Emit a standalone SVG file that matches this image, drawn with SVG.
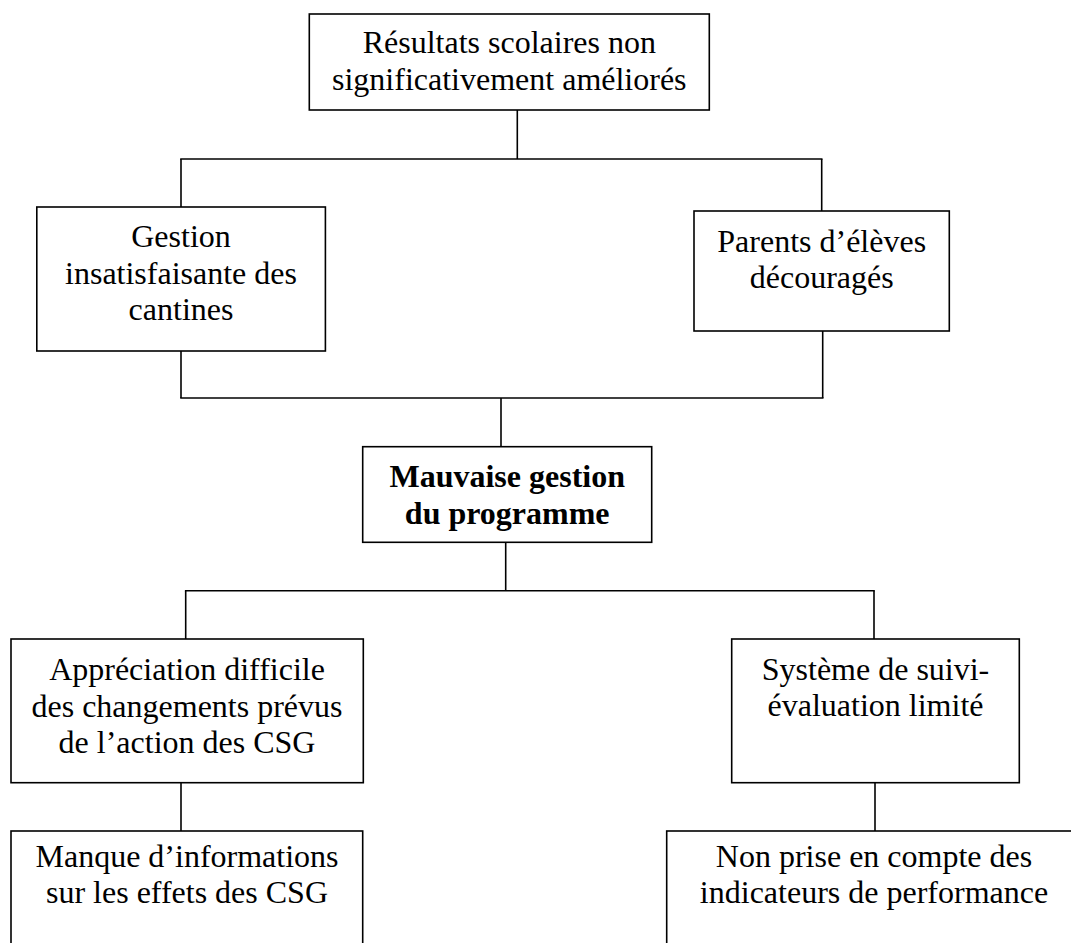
<svg xmlns="http://www.w3.org/2000/svg" width="1071" height="943" viewBox="0 0 1071 943">
<style>
  .box { fill: #ffffff; stroke: #000000; stroke-width: 1.6; }
  .lbl { font-family: "Liberation Serif", "Times New Roman", serif; font-size: 32px; fill: #000000; text-anchor: middle; }
  .bold { font-weight: bold; }
  .conn line { stroke: #000000; stroke-width: 1.6; }
</style>
<rect x="0" y="0" width="1071" height="943" fill="#ffffff"/>
<g id="connectors" class="conn">
  <line x1="517.3" y1="110" x2="517.3" y2="159"/>
  <line x1="180.2" y1="159" x2="822.5" y2="159"/>
  <line x1="181" y1="159" x2="181" y2="207"/>
  <line x1="821.7" y1="159" x2="821.7" y2="211"/>
  <line x1="181" y1="351" x2="181" y2="398"/>
  <line x1="822.7" y1="331" x2="822.7" y2="398"/>
  <line x1="180.2" y1="398" x2="823.5" y2="398"/>
  <line x1="501" y1="398" x2="501" y2="446.7"/>
  <line x1="505.7" y1="542.3" x2="505.7" y2="590.7"/>
  <line x1="184.9" y1="590.7" x2="874.8" y2="590.7"/>
  <line x1="185.7" y1="590.7" x2="185.7" y2="639"/>
  <line x1="874" y1="590.7" x2="874" y2="639"/>
  <line x1="181" y1="782.7" x2="181" y2="831"/>
  <line x1="875" y1="782.7" x2="875" y2="831"/>
</g>
<g id="n-resultats">
  <rect class="box" x="309.3" y="14" width="400" height="96"/>
  <text class="lbl" x="509.3" y="53">Résultats scolaires non</text>
  <text class="lbl" x="509.3" y="90">significativement améliorés</text>
</g>
<g id="n-gestion-cantines">
  <rect class="box" x="36.8" y="207" width="288.6" height="144"/>
  <text class="lbl" x="181" y="247">Gestion</text>
  <text class="lbl" x="181" y="283.5">insatisfaisante des</text>
  <text class="lbl" x="181" y="320">cantines</text>
</g>
<g id="n-parents">
  <rect class="box" x="694" y="211" width="255.3" height="120"/>
  <text class="lbl" x="821.7" y="252">Parents d’élèves</text>
  <text class="lbl" x="821.7" y="288">découragés</text>
</g>
<g id="n-mauvaise-gestion">
  <rect class="box" x="362.7" y="446.7" width="289" height="95.6"/>
  <text class="lbl bold" x="507.2" y="487">Mauvaise gestion</text>
  <text class="lbl bold" x="507.2" y="524">du programme</text>
</g>
<g id="n-appreciation">
  <rect class="box" x="11" y="639" width="352.3" height="143.7"/>
  <text class="lbl" x="187" y="679.5">Appréciation difficile</text>
  <text class="lbl" x="187" y="716.5">des changements prévus</text>
  <text class="lbl" x="187" y="753">de l’action des CSG</text>
</g>
<g id="n-suivi-evaluation">
  <rect class="box" x="731.7" y="639" width="287.6" height="143.7"/>
  <text class="lbl" x="875.5" y="679.5">Système de suivi-</text>
  <text class="lbl" x="875.5" y="716">évaluation limité</text>
</g>
<g id="n-manque-informations">
  <rect class="box" x="11" y="831" width="351.7" height="140"/>
  <text class="lbl" x="187" y="867">Manque d’informations</text>
  <text class="lbl" x="187" y="903">sur les effets des CSG</text>
</g>
<g id="n-indicateurs">
  <rect class="box" x="666.7" y="831" width="420" height="140"/>
  <text class="lbl" x="874" y="867">Non prise en compte des</text>
  <text class="lbl" x="874" y="903">indicateurs de performance</text>
</g>
</svg>
